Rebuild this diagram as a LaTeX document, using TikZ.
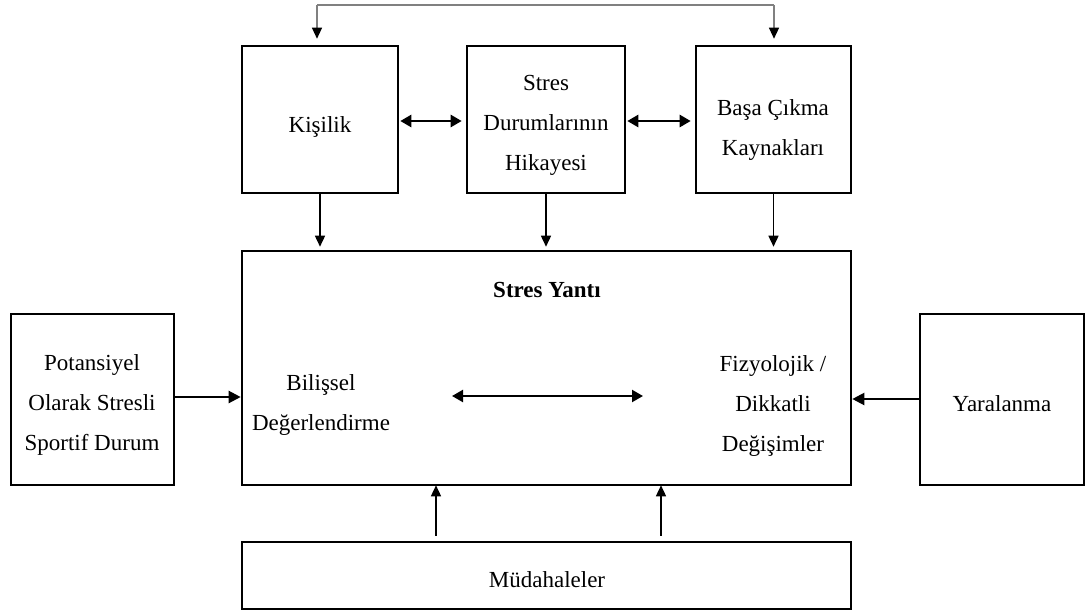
\documentclass[tikz,border=0pt]{standalone}
\usepackage{fontspec}
\setmainfont{Liberation Serif}
\usetikzlibrary{arrows.meta}
\begin{document}
\begin{tikzpicture}[x=1pt,y=-1pt,
  box/.style={draw, line width=2.6pt, inner sep=0pt},
  txt/.style={inner sep=0pt, align=center, font=\fontsize{23}{40}\selectfont},
  arr/.style={line width=1.5pt, -{Triangle[length=11pt,width=10pt]}},
  dbl/.style={line width=2.6pt, {Triangle[length=11pt,width=12pt]}-{Triangle[length=11pt,width=12pt]}},
  loopline/.style={draw=gray, line width=1.2pt}]
\useasboundingbox (0,0) rectangle (1090,614);
\fill[white] (0,0) rectangle (1090,614);

% top boxes
\node[box, minimum width=156pt, minimum height=147pt] (kis) at (320,119.5) {};
\node[box, minimum width=158pt, minimum height=147pt] (str) at (546,119.5) {};
\node[box, minimum width=155pt, minimum height=147pt] (bas) at (773.5,119.5) {};
\node[txt] (kisT) at (320,127) {Kişilik};
\node[txt] (strT) at (546,125) {Stres\\Durumlarının\\Hikayesi};
\node[txt] (basT) at (773,130) {Başa Çıkma\\Kaynakları};

% big box
\node[box, minimum width=609pt, minimum height=234pt] (big) at (546.5,368) {};
\node[txt, font=\fontsize{23}{40}\selectfont\bfseries] (yan) at (547,290) {Stres Yantı};
\node[txt] (bil) at (321,405) {Bilişsel\\Değerlendirme};
\node[txt] (fiz) at (773,406) {Fizyolojik /\\Dikkatli\\Değişimler};
\coordinate (da) at (452,396);
\coordinate (db) at (643,396);

% side boxes
\node[box, minimum width=163pt, minimum height=171pt] (pot) at (92.5,399.5) {};
\node[txt] (potT) at (92,405) {Potansiyel\\Olarak Stresli\\Sportif Durum};
\node[box, minimum width=164pt, minimum height=171pt] (yar) at (1002,399.5) {};
\node[txt] (yarT) at (1002,404) {Yaralanma};

% bottom box
\node[box, minimum width=609pt, minimum height=67pt] (mud) at (546.5,575.5) {};
\node[txt] (mudT) at (547,580) {Müdahaleler};

% top loop
\coordinate (tl) at (317,5);
\coordinate (tr) at (774,5);
\draw[loopline] (tl) -- (tr);
\draw[loopline, -{Triangle[length=11pt,width=10pt,color=black,fill=black]}, shorten >=6pt] (tl) -- (tl |- kis.north);
\draw[loopline, -{Triangle[length=11pt,width=10pt,color=black,fill=black]}, shorten >=6pt] (tr) -- (tr |- bas.north);

% double arrows between top boxes
\draw[dbl, shorten <=1pt, shorten >=4pt] ([yshift=-1.5pt]kis.east) -- ([yshift=-1.5pt]str.west);
\draw[dbl, shorten <=1pt, shorten >=4pt] ([yshift=-1.5pt]str.east) -- ([yshift=-1.5pt]bas.west);

% down arrows
\draw[arr, shorten >=3pt] (kis.south) -- (kis.south |- big.north);
\draw[arr, shorten >=3pt] (str.south) -- (str.south |- big.north);
\draw[arr, shorten >=3pt] (bas.south) -- (bas.south |- big.north);

% inner double arrow
\draw[dbl, line width=2.2pt] (da) -- (db);

% side arrows
\draw[line width=2.2pt, -{Triangle[length=12pt,width=12pt]}] ([yshift=2.5pt]pot.east) -- ([yshift=2.5pt]pot.east -| big.west);
\draw[line width=2.2pt, -{Triangle[length=12pt,width=12pt]}] ([yshift=0.5pt]yar.west) -- ([yshift=0.5pt]yar.west -| big.east);

% up arrows
\coordinate (u1) at (436,0);
\coordinate (u2) at (661,0);
\draw[arr, shorten <=5pt, shorten >=-1pt] (u1 |- mud.north) -- (u1 |- big.south);
\draw[arr, shorten <=5pt, shorten >=-1pt] (u2 |- mud.north) -- (u2 |- big.south);
\end{tikzpicture}
\end{document}
